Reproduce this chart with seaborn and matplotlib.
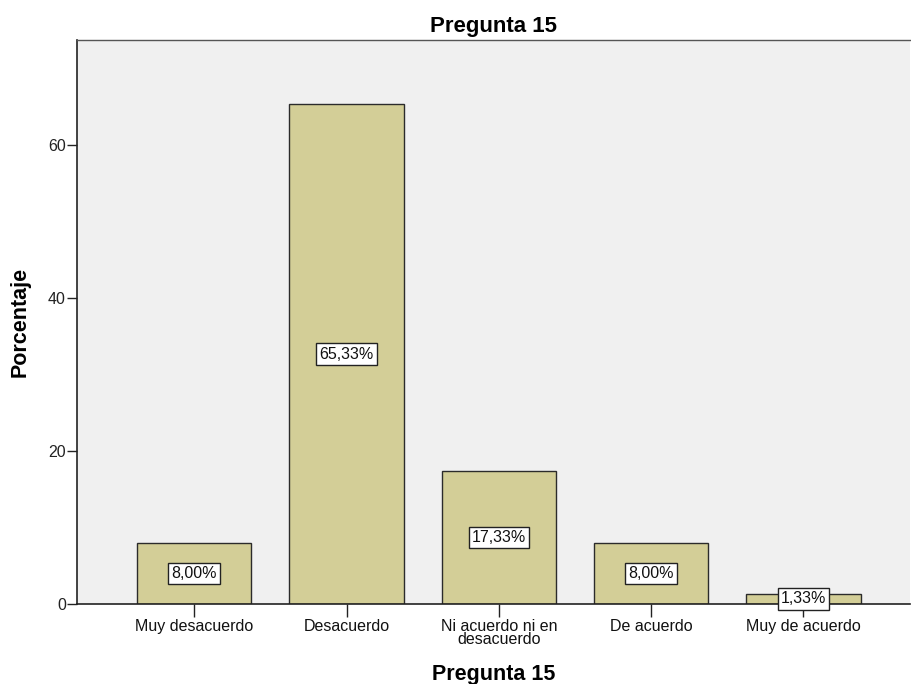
import matplotlib
matplotlib.use("Agg")
import matplotlib.pyplot as plt
import seaborn as sns
import pandas as pd

categories = ["Muy desacuerdo", "Desacuerdo", "Ni acuerdo ni en\ndesacuerdo", "De acuerdo", "Muy de acuerdo"]
values = [8.00, 65.33, 17.33, 8.00, 1.33]
labels = ["8,00%", "65,33%", "17,33%", "8,00%", "1,33%"]
yticks = [0, 20, 40, 60]

sns.set_theme(style="white")
plt.rcParams['font.family'] = ['Liberation Sans', 'DejaVu Sans']

df = pd.DataFrame({"cat": categories, "val": values})

fig = plt.figure(figsize=(9.11, 6.84), dpi=100)
ax = fig.add_axes([77/911, 1 - 604/684, (910 - 77)/911, (604 - 40)/684])
ax.set_facecolor("#F0F0F0")

sns.barplot(data=df, x="cat", y="val", ax=ax, color="#D3CE97", saturation=1,
            width=0.75, edgecolor="#2b2b2b", linewidth=1.0)

ax.set_xlim(-0.77, 4.70)
ax.set_ylim(0, 73.7)
ax.set_yticks(yticks)
ax.set_yticklabels([str(t) for t in yticks], fontsize=11.5, color="#222222")
ax.set_xticklabels(categories, fontsize=11.5, color="#111111", linespacing=0.85)
ax.tick_params(axis="y", length=7, width=1, color="#222222", direction="out", left=True, pad=1)
ax.tick_params(axis="x", length=9, width=1, color="#222222", direction="out", bottom=True, pad=2)

for s in ["left", "bottom"]:
    ax.spines[s].set_color("#222222")
    ax.spines[s].set_linewidth(1.2)
ax.spines["top"].set_color("#555555")
ax.spines["top"].set_linewidth(1.0)
ax.spines["right"].set_visible(False)

for i, (v, lab) in enumerate(zip(values, labels)):
    ax.text(i, v / 2, lab, ha="center", va="center", fontsize=11.5, color="#111111",
            bbox=dict(boxstyle="square,pad=0.2", facecolor="white", edgecolor="#222222", linewidth=1.0),
            zorder=5)

ax.set_title("Pregunta 15", fontsize=16, fontweight="bold", pad=6, color="black")
ax.set_xlabel("Pregunta 15", fontsize=15.5, fontweight="bold", labelpad=12, color="black")
ax.set_ylabel("Porcentaje", fontsize=15.5, fontweight="bold", color="black")
ax.yaxis.set_label_coords(-0.056, 0.5)

fig.savefig("out.png", dpi=100)
